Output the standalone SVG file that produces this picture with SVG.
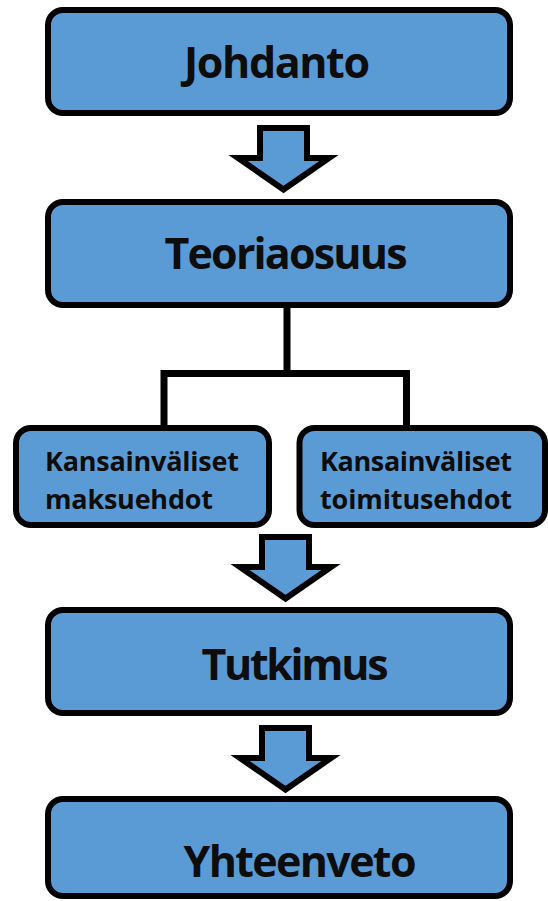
<svg xmlns="http://www.w3.org/2000/svg" width="548" height="901" viewBox="0 0 548 901">
<defs>
<style>
.box{fill:#5B9BD5;stroke:#000;stroke-width:6}
.arrow{fill:#5B9BD5;stroke:#000;stroke-width:6;stroke-linejoin:miter;stroke-miterlimit:10}
.line{fill:none;stroke:#000;stroke-width:7;stroke-linejoin:miter}
.big{font-family:"Open Sans","Noto Sans",sans-serif;font-weight:bold;font-size:43px;fill:#0d0d0d;text-anchor:middle}
.small{font-family:"Open Sans","Noto Sans",sans-serif;font-weight:bold;font-size:27px;fill:#0d0d0d}
</style>
<polygon id="blockArrow" class="arrow" points="260,128 307,128 307,158 329,158 283.5,189.5 238,158 260,158"/>
</defs>
<rect width="548" height="901" fill="#fff"/>
<g id="connectors">
<use href="#blockArrow"/>
<use href="#blockArrow" transform="translate(2,409)"/>
<use href="#blockArrow" transform="translate(2,600)"/>
<path class="line" d="M287 308 V373.5 M164 426 V373.5 H406.5 V426"/>
</g>
<g id="johdanto">
<rect class="box" x="48" y="10" width="462" height="103" rx="15"/>
<text class="big" x="277" y="78" textLength="186">Johdanto</text>
</g>
<g id="teoriaosuus">
<rect class="box" x="48" y="202" width="462" height="103" rx="15"/>
<text class="big" x="286" y="269" textLength="243">Teoriaosuus</text>
</g>
<g id="maksuehdot">
<rect class="box" x="16" y="428" width="253" height="97" rx="15"/>
<text class="small" x="45" y="471" textLength="194">Kansainväliset</text>
<text class="small" x="45" y="509" textLength="168">maksuehdot</text>
</g>
<g id="toimitusehdot">
<rect class="box" x="299.5" y="428" width="245.5" height="97" rx="15"/>
<text class="small" x="320" y="471" textLength="192">Kansainväliset</text>
<text class="small" x="320" y="509" textLength="192">toimitusehdot</text>
</g>
<g id="tutkimus">
<rect class="box" x="48" y="610" width="462" height="103" rx="15"/>
<text class="big" x="295" y="680" textLength="187">Tutkimus</text>
</g>
<g id="yhteenveto">
<rect class="box" x="48" y="799" width="462" height="97" rx="15"/>
<text class="big" x="300" y="877" textLength="233">Yhteenveto</text>
</g>
</svg>
